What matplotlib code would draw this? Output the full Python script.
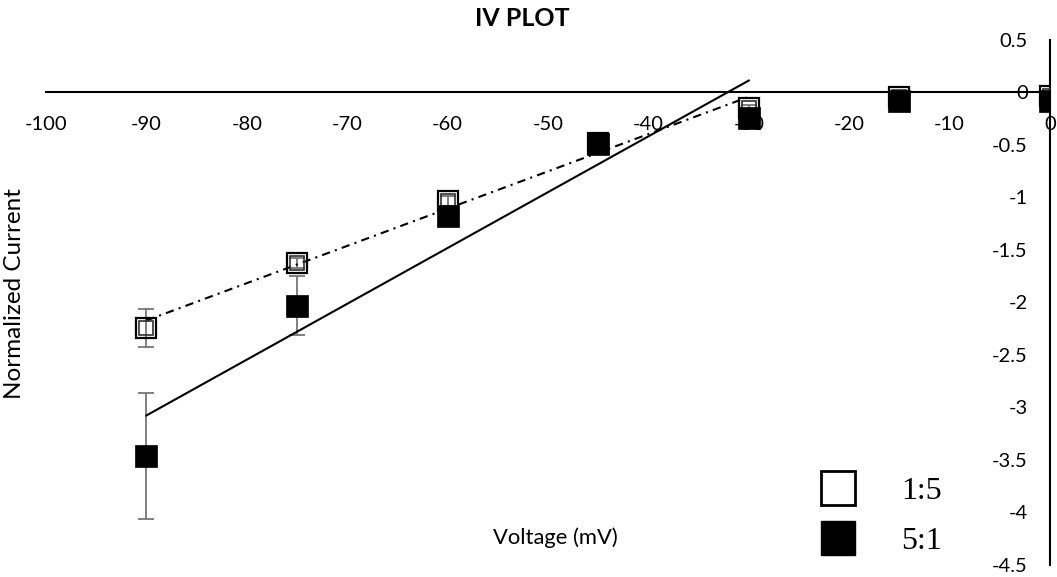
import numpy as np
import matplotlib
matplotlib.use("Agg")
import matplotlib.pyplot as plt
from matplotlib.lines import Line2D
from matplotlib.ticker import FuncFormatter

plt.rcParams['axes.unicode_minus'] = False
plt.rcParams['font.family'] = ['Lato', 'DejaVu Sans']

# holding potentials (mV) and normalized currents for the two solution ratios
voltage = [-90, -75, -60, -45, -30, -15, 0]
current_1to5 = [-2.24, -1.625, -1.035, -0.48, -0.15, -0.04, -0.03]
err_1to5 = [0.18, 0.05, 0.05, 0.03, 0.03, 0.02, 0.02]
current_5to1 = [-3.46, -2.03, -1.18, -0.495, -0.24, -0.08, -0.08]
err_5to1 = [0.60, 0.28, 0.04, 0.03, 0.03, 0.02, 0.02]

# linear fits are taken over the -90..-30 mV range only
fit_n = 5

x_ticks = list(range(-100, 1, 10))
y_ticks = list(np.arange(-4.5, 0.51, 0.5))

fig = plt.figure(figsize=(10.57, 5.77), dpi=100)
ax = fig.add_axes([0.0435, 0.0208, 0.9499, 0.9099])
ax.set_xlim(-100, 0)
ax.set_ylim(-4.5, 0.5)

# axes cross at the origin, Excel style
for side in ['top', 'right']:
    ax.spines[side].set_visible(False)
ax.spines['bottom'].set_position(('data', 0))
ax.spines['left'].set_position(('data', 0))
for side in ['bottom', 'left']:
    ax.spines[side].set_linewidth(1.5)
    ax.spines[side].set_color('black')

ax.set_xticks(x_ticks)
ax.set_yticks(y_ticks)
ax.xaxis.set_major_formatter(FuncFormatter(lambda v, p: '%g' % v))
ax.yaxis.set_major_formatter(FuncFormatter(lambda v, p: '%g' % v))
ax.tick_params(axis='x', length=0, pad=17, labelsize=14.5)
ax.tick_params(axis='y', length=0, pad=16, labelsize=14.5)

# trend lines
vx = np.array(voltage[:fit_n])
p15 = np.polyfit(vx, current_1to5[:fit_n], 1)
p51 = np.polyfit(vx, current_5to1[:fit_n], 1)
xs = np.array([vx.min(), vx.max()])
ax.plot(xs, np.polyval(p15, xs), color='black', lw=1.5,
        linestyle=(0, (4, 2.5, 1, 2.5)), zorder=3)
ax.plot(xs, np.polyval(p51, xs), color='black', lw=1.5, zorder=3)

# error bars
ax.errorbar(voltage, current_1to5, yerr=err_1to5, fmt='none', ecolor='#767676',
            elinewidth=1.3, capsize=6, capthick=1.3, zorder=2)
ax.errorbar(voltage, current_5to1, yerr=err_5to1, fmt='none', ecolor='#767676',
            elinewidth=1.3, capsize=6, capthick=1.3, zorder=2)

# open squares drawn with a double outline
ax.plot(voltage, current_1to5, linestyle='none', marker='s', markersize=15,
        markerfacecolor='none', markeredgecolor='black', markeredgewidth=1.6, zorder=4)
ax.plot(voltage, current_1to5, linestyle='none', marker='s', markersize=10.5,
        markerfacecolor='none', markeredgecolor='#303030', markeredgewidth=1.2, zorder=4)
ax.plot(voltage, current_5to1, linestyle='none', marker='s', markersize=16,
        markerfacecolor='black', markeredgecolor='black', markeredgewidth=0.5, zorder=5)

fig.text(0.494, 1 - 18 / 577, 'IV PLOT', ha='center', va='center',
         fontsize=18, fontweight='bold')
ax.set_xlabel('Voltage (mV)', fontsize=15.8)
ax.xaxis.set_label_coords(0.507, 0.052)
ax.xaxis.label.set_va('center')
ax.set_ylabel('Normalized Current', fontsize=17.5)
ax.yaxis.set_label_coords(-0.031, 0.517)
ax.yaxis.label.set_va('center')

handles = [
    Line2D([], [], linestyle='none', marker='s', markersize=24,
           markerfacecolor='white', markeredgecolor='black', markeredgewidth=2),
    Line2D([], [], linestyle='none', marker='s', markersize=24,
           markerfacecolor='black', markeredgecolor='black'),
]
ax.legend(handles, ['1:5', '5:1'], loc='upper left',
          bbox_to_anchor=(820 / 1057, 1 - 477 / 577), bbox_transform=fig.transFigure,
          frameon=False, borderpad=0, borderaxespad=0, handlelength=1.1,
          handletextpad=1.45, labelspacing=0.65,
          prop={'family': 'Liberation Serif', 'size': 23})

fig.savefig('out.png', dpi=100)
